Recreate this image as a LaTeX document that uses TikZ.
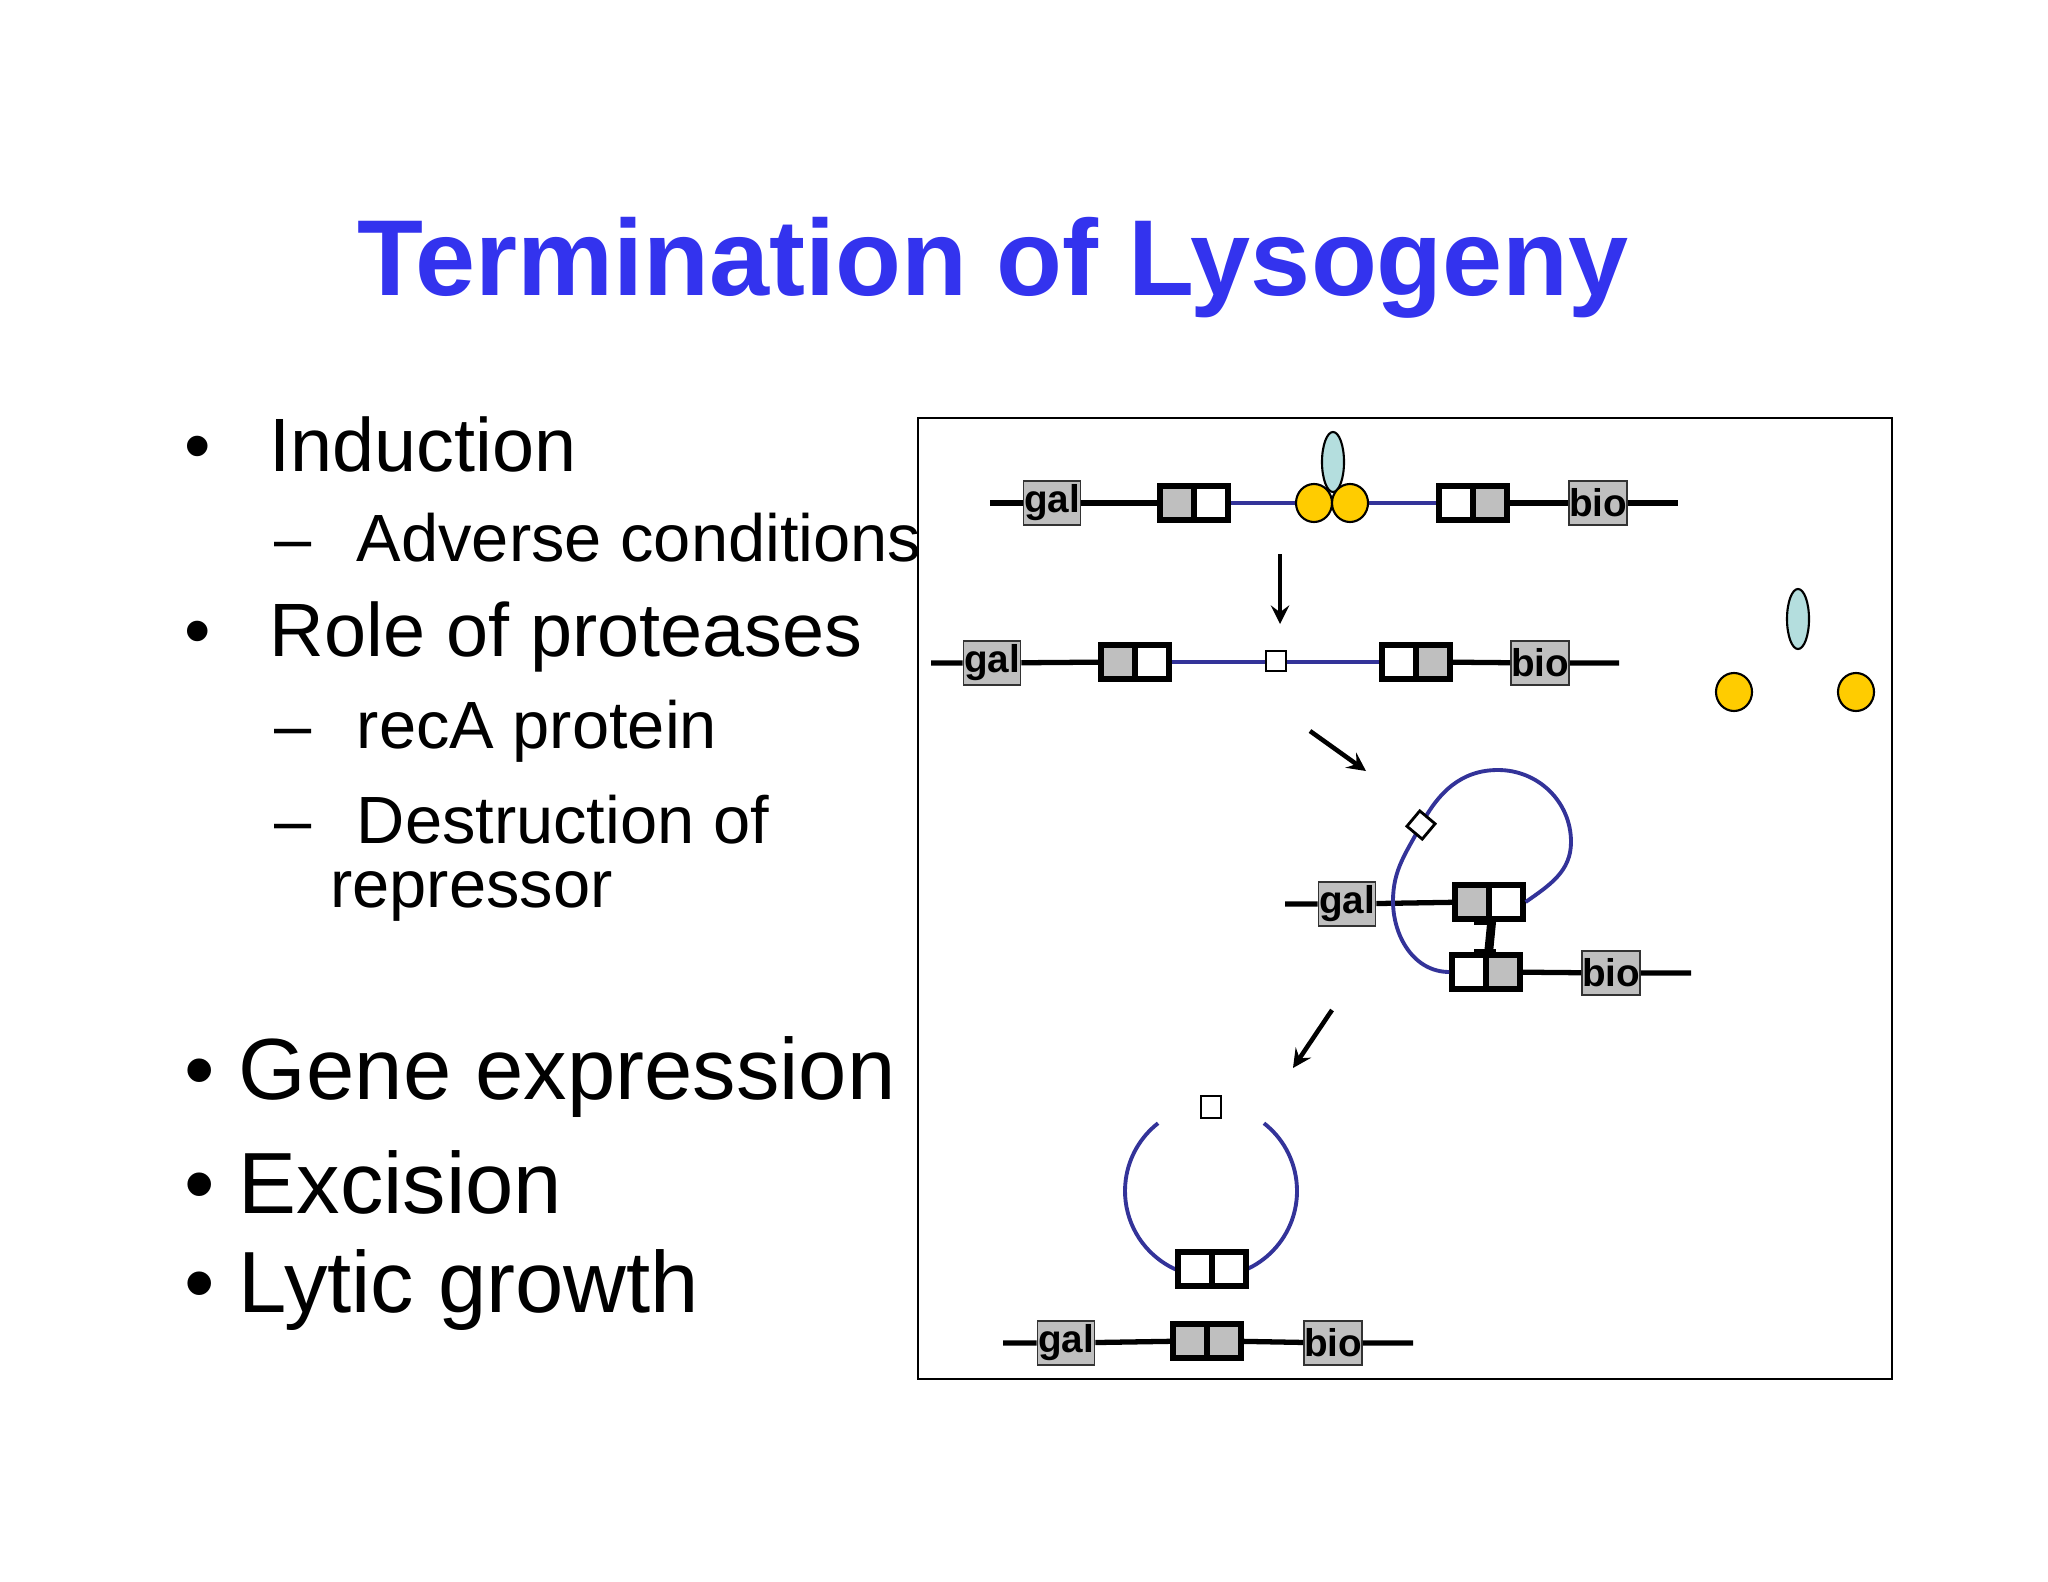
\documentclass[tikz,border=0pt]{standalone}
\usepackage{fontspec}
\setmainfont{Liberation Sans}
\usetikzlibrary{shapes.geometric}
\begin{document}
\begin{tikzpicture}[x=0.01cm,y=-0.01cm,
  lab/.style={draw=black!80,line width=0.5pt,fill=black!25,minimum width=0.57cm,minimum height=0.44cm,inner sep=0pt,font=\bfseries\fontsize{11}{11}\selectfont},
  g/.style={draw,line width=1.5pt,fill=black!25,minimum width=0.34cm,minimum height=0.34cm,inner sep=0pt},
  w/.style={draw,line width=1.5pt,fill=white,minimum width=0.34cm,minimum height=0.34cm,inner sep=0pt},
  dna/.style={line width=1.5pt},
  phage/.style={line width=1.1pt,color={rgb,255:red,51;green,51;blue,153}},
  yel/.style={draw,line width=0.6pt,fill={rgb,255:red,255;green,204;blue,0},ellipse,minimum width=0.36cm,minimum height=0.38cm,inner sep=0pt},
  rep/.style={draw,line width=0.6pt,fill={rgb,255:red,180;green,222;blue,222},ellipse,minimum width=0.22cm,minimum height=0.6cm,inner sep=0pt},
  arr/.style={line width=1.3pt,-stealth},
  sq/.style={draw,line width=0.8pt,fill=white,minimum size=0.2cm,inner sep=0pt},
  b1/.style={font=\fontsize{21.5}{24}\selectfont,anchor=west},
  b2/.style={font=\fontsize{19}{22}\selectfont,anchor=west},
  b3/.style={font=\fontsize{24.7}{28}\selectfont,anchor=west}]
\useasboundingbox (0,0) rectangle (2048,1582);
\node[font=\bfseries\fontsize{30.7}{34}\selectfont,text={rgb,255:red,51;green,51;blue,238}] (title) at (993,268) {Termination of Lysogeny};
% text
\node[b1] (t1) at (172,444) {•\hspace{0.5em} Induction};
\node[b2] (t2) at (262,538) {–\hspace{0.4em} Adverse conditions};
\node[b1] (t3) at (172,637) {•\hspace{0.5em} Role of proteases};
\node[b2] (t4) at (262,731) {–\hspace{0.4em} recA protein};
\node[b2] (t5) at (262,820) {–\hspace{0.4em} Destruction of};
\node[b2] (t6) at (318,896) {repressor};
\node[b3] (t7) at (172,1077) {• Gene expression};
\node[b3] (t8) at (172,1182) {• Excision};
\node[b3] (t9) at (172,1290) {• Lytic growth};
% frame
\draw[line width=0.8pt] (918,418) rectangle (1892,1379);
% row 1
\coordinate (a0) at (990,503); \coordinate (a9) at (1678,503);
\node[lab] (ga) at (1052,503) {gal};
\node[g] (a1) at (1177,503) {}; \node[w] (a2) at (1211,503) {};
\node[w] (a3) at (1456,503) {}; \node[g] (a4) at (1490,503) {};
\node[lab] (ba) at (1598,503) {bio};
\draw[dna] (a0) -- (ga) -- (a1); \draw[dna] (a4) -- (ba) -- (a9);
\draw[phage] (a2.east) -- (a3.west);
\node[rep] (ra) at (1333,462) {};
\node[yel] (y1) at (1314,503) {}; \node[yel] (y2) at (1350,503) {};
% arrow 1
\coordinate (p1) at (1280,554); \coordinate (p2) at (1280,624);
\draw[arr] (p1) -- (p2);
% row 2
\coordinate (c0) at (931,663); \coordinate (c9) at (1619,663);
\node[lab] (gb) at (992,663) {gal};
\node[g] (c1) at (1118,662) {}; \node[w] (c2) at (1152,662) {};
\node[w] (c3) at (1399,662) {}; \node[g] (c4) at (1433,662) {};
\node[lab] (bb) at (1540,663) {bio};
\draw[dna] (c0) -- (gb) -- (c1); \draw[dna] (c4) -- (bb) -- (c9);
\draw[phage] (c2.east) -- (c3.west);
\node[sq] (s1) at (1276,661) {};
\node[rep] (rb) at (1798,619) {};
\node[yel] (y3) at (1734,692) {}; \node[yel] (y4) at (1856,692) {};
% arrow 2
\coordinate (q1) at (1310,731); \coordinate (q2) at (1366,771);
\draw[arr] (q1) -- (q2);
% loop
\coordinate (e0) at (1285,904);
\node[lab] (gc) at (1347,904) {gal};
\node[g] (e1) at (1472,902) {}; \node[w] (e2) at (1506,902) {};
\node[w] (f1) at (1469,972) {}; \node[g] (f2) at (1503,972) {};
\node[lab] (bc) at (1611,973) {bio};
\coordinate (f9) at (1691,973);
\draw[dna] (e0) -- (gc) -- (e1); \draw[dna] (f2) -- (bc) -- (f9);
\draw[line width=2.5pt] (e1.south east) -- (f1.north east);
\draw[line width=1.5pt] (1474,922) -- (1496,922) (1474,952) -- (1496,952);
\draw[phage] (e2.east) to[out=35,in=-90] (1571,842) to[out=90,in=0] (1498,770) to[out=180,in=62] (1421,825) to[out=-118,in=90] (1393,901) to[out=-90,in=180] (f1.west);
\node[sq,rotate=50] (d1) at (1421,825) {};
% arrow 3
\coordinate (r1) at (1332,1010); \coordinate (r2) at (1293,1068);
\draw[arr] (r1) -- (r2);
% circle
\draw[phage] (1211,1191) ++(-52:86) arc[start angle=-52,end angle=232,radius=86];
\node[w] (h1) at (1195,1269) {}; \node[w] (h2) at (1229,1269) {};
\node[sq,minimum width=0.2cm,minimum height=0.22cm] (s2) at (1211,1107) {};
% bottom row
\coordinate (k0) at (1003,1343); \coordinate (k9) at (1413,1343);
\node[lab] (gd) at (1066,1343) {gal};
\node[g] (k1) at (1190,1341) {}; \node[g] (k2) at (1224,1341) {};
\node[lab] (bd) at (1333,1343) {bio};
\draw[dna] (k0) -- (gd) -- (k1); \draw[dna] (k2) -- (bd) -- (k9);
\end{tikzpicture}
\end{document}
